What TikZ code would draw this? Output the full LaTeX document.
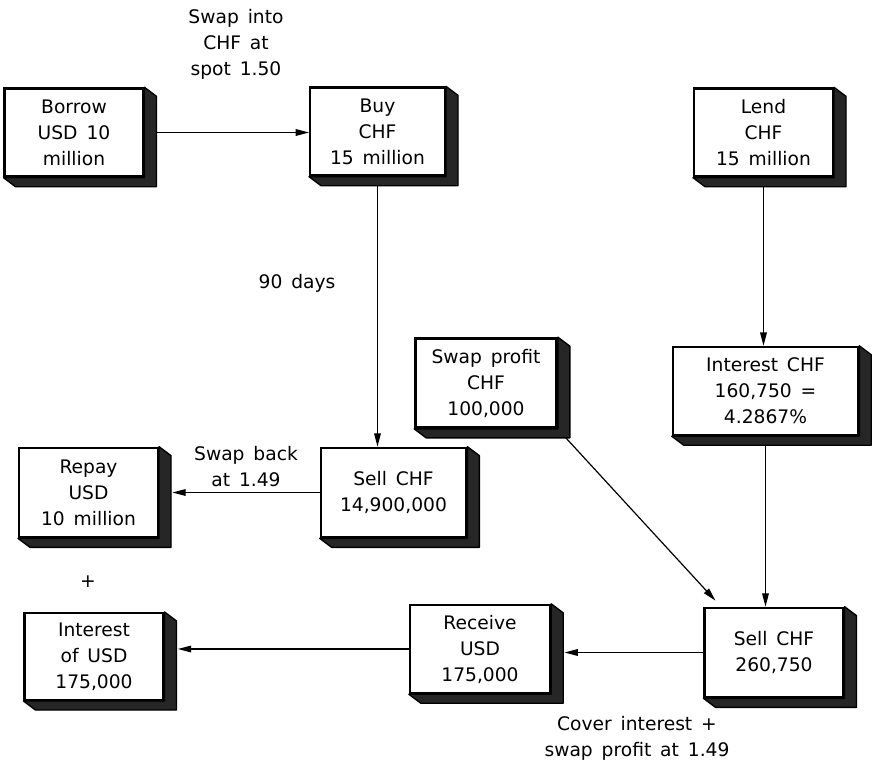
\documentclass[tikz,border=0pt]{standalone}
\usepackage{fontspec}
\setmainfont{DejaVu Sans}[WordSpace=1.5]
\usetikzlibrary{arrows.meta,calc,positioning}

\begin{document}
\begin{tikzpicture}[x=0.75pt,y=-0.75pt,
  font=\fontsize{14}{19.5}\selectfont,
  blok/.style={rectangle,draw,line width=1.8pt,fill=white,align=center,
               inner sep=2pt,minimum width=104pt,minimum height=66pt},
  note/.style={align=center,inner sep=1pt}]

\tikzset{fleche/.style={-{Triangle[length=10pt,width=5pt]},line width=0.9pt},
         relief/.style={fill=black!85,draw=black,line width=1pt,line join=round}}

\useasboundingbox (0,0) rectangle (872,764);

% boxes
\node[blok] (borrow) at (74,132.5) {Borrow\\USD 10\\million};
\node[blok,minimum width=101pt] (buy) at (377.5,131.5) {Buy\\CHF\\15 million};
\node[blok] (lend) at (763.5,132.5) {Lend\\CHF\\15 million};
\node[blok,minimum width=106pt,minimum height=67pt] (swapprofit) at (486,383) {Swap profit\\CHF\\100,000};
\node[blok,minimum width=139pt] (intchf) at (765.5,391) {Interest CHF\\160,750 =\\4.2867\%};
\node[blok,minimum width=109pt,minimum height=67pt] (sell1) at (393.5,492.5) {Sell CHF\\14,900,000};
\node[blok,minimum height=67pt] (repay) at (88.5,492.5) {Repay\\USD\\10 million};
\node[blok,minimum height=65pt] (intusd) at (94,656.5) {Interest\\of USD\\175,000};
\node[blok,minimum width=105pt] (receive) at (480,649) {Receive\\USD\\175,000};
\node[blok,minimum height=67pt] (sell2) at (774,652.5) {Sell CHF\\260,750};

% labels
\node[note] (swapinto) at (236,44) {Swap into\\CHF at\\spot 1.50};
\node[note] (days) at (297,283) {90 days};
\node[note] (swapback) at (246,467) {Swap back\\at 1.49};
\node[note] (plus) at (88,582) {+};
\node[note] (cover) at (637,738) {Cover interest +\\swap profit at 1.49};

% connectors
\draw[fleche] (borrow.east) -- (borrow.east -| buy.west);
\draw[fleche] (buy.south) -- (buy.south |- sell1.north);
\draw[fleche] (lend.south) -- (lend.south |- intchf.north);
\draw[fleche] (intchf.south) -- (intchf.south |- sell2.north);
\draw[fleche] ($(swapprofit.south east)+(8,9)$) -- ($(sell2.north west)+(12,-6)$);
\draw[fleche] (sell1.west) -- ([xshift=10pt]sell1.west -| repay.east);
\draw[fleche] (sell2.west) -- ([xshift=10pt]sell2.west -| receive.east);
\draw[fleche] (receive.west) -- ([xshift=10pt]receive.west -| intusd.east);

% 3d relief
\foreach \n in {borrow,buy,lend,swapprofit,intchf,sell1,repay,intusd,receive,sell2}
  \filldraw[relief] (\n.north east) -- ++(12,9) -- ($(\n.south east)+(12,9)$)
    -- ($(\n.south west)+(12,9)$) -- (\n.south west) -- (\n.south east) -- cycle;
\end{tikzpicture}
\end{document}
